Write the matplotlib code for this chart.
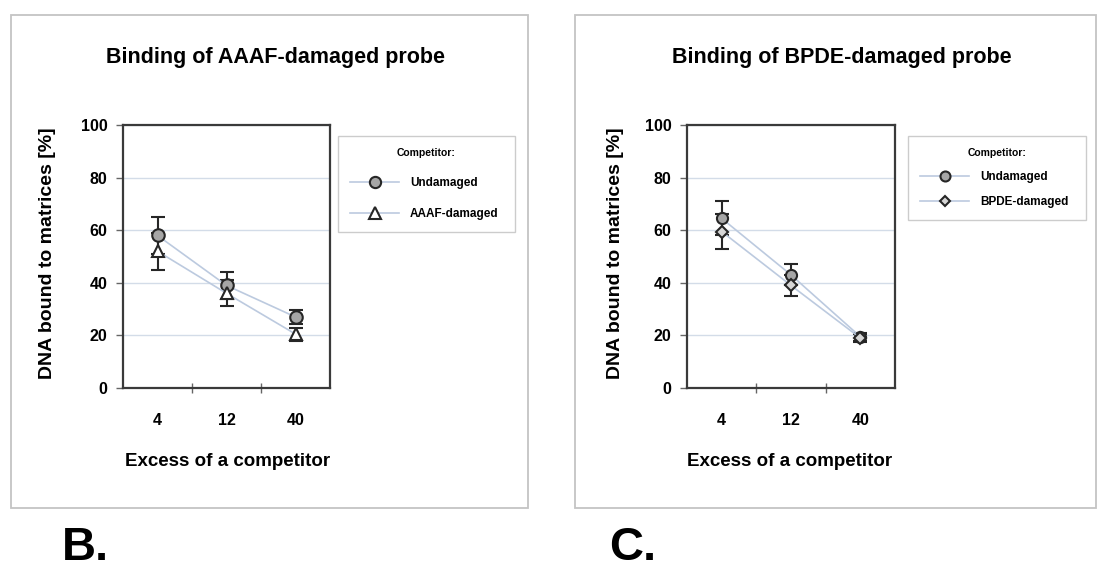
import matplotlib
matplotlib.use("Agg")
import matplotlib.pyplot as plt
from matplotlib.patches import Rectangle

plt.rcParams["font.family"] = ["Liberation Sans", "DejaVu Sans"]
plt.rcParams["font.weight"] = "bold"

W, H = 1097, 574

# data
categories = ["4", "12", "40"]

undamaged_b = [58, 39, 27]
undamaged_b_err = [7, 5, 2.5]
aaaf_b = [52, 36, 20.5]
aaaf_b_err = [7, 5, 2.5]

undamaged_c = [64.5, 43, 19.5]
undamaged_c_err = [6.5, 4, 1.5]
bpde_c = [59.5, 39, 19]
bpde_c_err = [6.5, 4, 1.5]

yticks = [0, 20, 40, 60, 80, 100]

LINE = "#bccadf"
GRID = "#d3dce8"
DARK = "#262626"
FRAME = "#c4c4c4"


def px_rect(x0, y0, x1, y1):
    """pixel box (top-left origin) -> figure fraction [l, b, w, h]"""
    return [x0 / W, 1 - y1 / H, (x1 - x0) / W, (y1 - y0) / H]


def draw_panel(fig, box, s1, e1, s2, e2, marker2, face2, label2,
               legend_box, ms1, ms2, spacing):
    ax = fig.add_axes(px_rect(*box))
    x = [i + 0.5 for i in range(len(categories))]

    for vals, errs in [(s1, e1), (s2, e2)]:
        ax.errorbar(x, vals, yerr=errs, fmt="none", ecolor=DARK,
                    elinewidth=1.5, capsize=5, capthick=1.5, zorder=3)

    h1, = ax.plot(x, s1, color=LINE, lw=1.2, marker="o", ms=ms1,
                  mfc="#a6a6a6", mec=DARK, mew=1.5, zorder=4,
                  label="Undamaged")
    h2, = ax.plot(x, s2, color=LINE, lw=1.2, marker=marker2, ms=ms2,
                  mfc=face2, mec=DARK, mew=1.5, zorder=4, label=label2)

    ax.set_xlim(0, 3)
    ax.set_ylim(0, 100)
    ax.set_yticks(yticks)
    ax.set_yticklabels([str(v) for v in yticks], fontsize=11.5)
    ax.set_xticks(x)
    ax.set_xticklabels(categories, fontsize=11.5)
    ax.set_xticks([1, 2], minor=True)
    ax.tick_params(axis="x", which="major", length=0, pad=18)
    ax.tick_params(axis="x", which="minor", direction="inout", length=7,
                   width=1, color="#666666")
    ax.tick_params(axis="y", direction="out", length=5, width=1,
                   color="#666666", pad=6)
    ax.grid(axis="y", color=GRID, lw=1)
    ax.set_axisbelow(True)
    for sp in ax.spines.values():
        sp.set_color("#3a3a3a")
        sp.set_linewidth(1.6)

    lx0, ly0, lx1, ly1 = legend_box
    leg = fig.legend(handles=[h1, h2], title="Competitor:",
                     loc="upper left",
                     bbox_to_anchor=(lx0 / W, 1 - ly0 / H, (lx1 - lx0) / W, 0.01),
                     mode="expand", borderaxespad=0,
                     fontsize=8.5, title_fontsize=7.5,
                     handlelength=4.2, handletextpad=0.9, labelspacing=spacing,
                     borderpad=1.0, fancybox=False, framealpha=1,
                     edgecolor="#cccccc", markerscale=0.9)
    leg.get_frame().set_linewidth(1.0)
    return ax


fig = plt.figure(figsize=(W / 100, H / 100), dpi=100)

# outer panel frames
fig.patches.append(Rectangle((11 / W, 1 - 508 / H), 517 / W, 493 / H,
                             transform=fig.transFigure, fill=False,
                             edgecolor=FRAME, lw=1.3))
fig.patches.append(Rectangle((575 / W, 1 - 508 / H), 521 / W, 493 / H,
                             transform=fig.transFigure, fill=False,
                             edgecolor=FRAME, lw=1.3))

draw_panel(fig, (123, 125, 330, 388), undamaged_b, undamaged_b_err,
           aaaf_b, aaaf_b_err, "^", "white", "AAAF-damaged",
           (338, 142, 515, 235), 9, 9, 1.6)
draw_panel(fig, (687, 125, 895, 388), undamaged_c, undamaged_c_err,
           bpde_c, bpde_c_err, "D", "#d6d6d6", "BPDE-damaged",
           (908, 142, 1086, 233), 8, 6, 1.1)

# titles and axis labels
fig.text(276 / W, 1 - 58 / H, "Binding of AAAF-damaged probe",
         ha="center", va="center", fontsize=15.5)
fig.text(842 / W, 1 - 58 / H, "Binding of BPDE-damaged probe",
         ha="center", va="center", fontsize=15.5)
fig.text(48 / W, 1 - 253 / H, "DNA bound to matrices [%]", rotation=90,
         ha="center", va="center", fontsize=14)
fig.text(615 / W, 1 - 253 / H, "DNA bound to matrices [%]", rotation=90,
         ha="center", va="center", fontsize=14)
fig.text(228 / W, 1 - 461 / H, "Excess of a competitor",
         ha="center", va="center", fontsize=13.5)
fig.text(790 / W, 1 - 462 / H, "Excess of a competitor",
         ha="center", va="center", fontsize=13.5)

fig.text(85 / W, 1 - 548 / H, "B.", ha="center", va="center", fontsize=34)
fig.text(633 / W, 1 - 548 / H, "C.", ha="center", va="center", fontsize=34)

fig.savefig("out.png", dpi=100)
